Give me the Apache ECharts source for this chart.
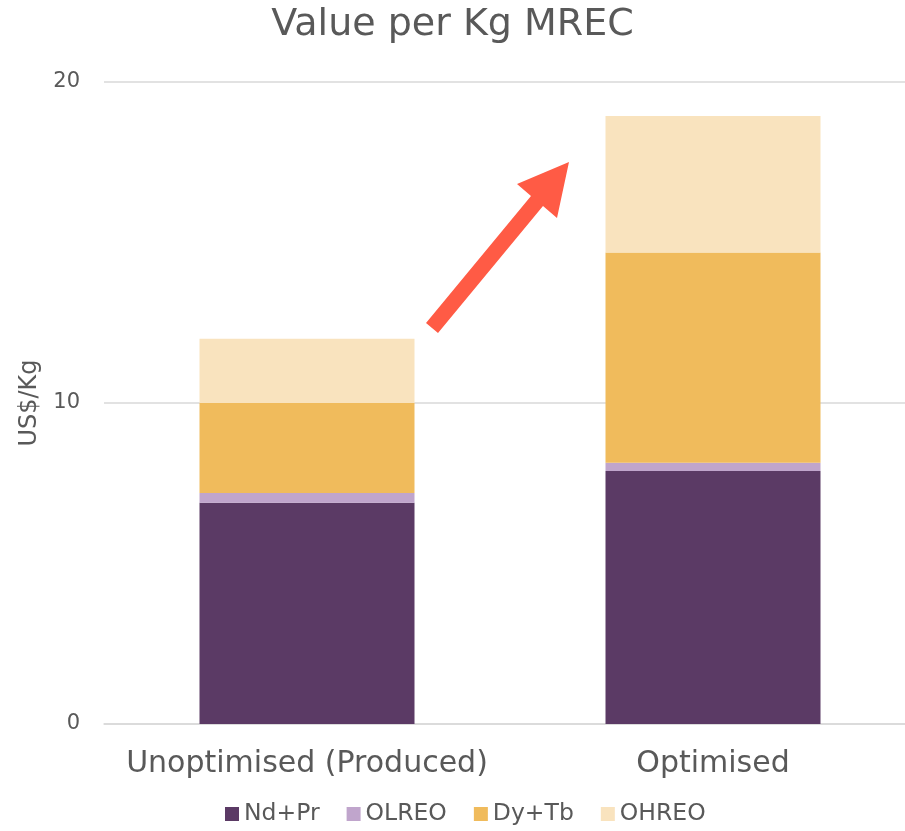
<!DOCTYPE html>
<html>
<head>
<meta charset="utf-8">
<script src="https://cdn.jsdelivr.net/npm/echarts@6/dist/echarts.min.js"></script>
<style>
  html, body { margin: 0; padding: 0; background: #fff; }
  #chart { width: 905px; height: 831px; }
</style>
</head>
<body>
<div id="chart"></div>
<script>
// data
var categories = ["Unoptimised (Produced)", "Optimised"];
var ndPr = [6.89, 7.88];
var olreo = [0.31, 0.26];
var dyTb = [2.80, 6.55];
var ohreo = [2.00, 4.25];
var yTicks = [0, 10, 20];

var chart = echarts.init(document.getElementById("chart"));
var font = "DejaVu Sans";
var grey = "#595959";

function barSeries(name, data, color) {
  return {
    name: name,
    type: "bar",
    stack: "total",
    barWidth: 215,
    data: data,
    itemStyle: { color: color },
  };
}

var option = {
  animation: false,
  title: {
    text: "Value per Kg MREC",
    left: "center",
    top: 1,
    textStyle: { fontFamily: font, fontSize: 38, fontWeight: "normal", color: grey },
  },
  grid: { left: 104, width: 812, top: 82, bottom: 107, outerBoundsMode: "none", containLabel: false },
  legend: {
    bottom: 0,
    left: 220,
    itemWidth: 14,
    itemHeight: 14,
    itemGap: 27,
    icon: "rect",
    textStyle: { fontFamily: font, fontSize: 23.5, color: grey },
  },
  xAxis: {
    type: "category",
    data: categories,
    axisLine: { lineStyle: { color: "#d9d9d9", width: 1.5 } },
    axisTick: { show: false },
    axisLabel: { interval: 0, fontFamily: font, fontSize: 30, color: grey, margin: 25 },
  },
  yAxis: {
    type: "value",
    min: yTicks[0],
    max: yTicks[yTicks.length - 1],
    interval: 10,
    name: "US$/Kg",
    nameLocation: "middle",
    nameGap: 62,
    nameTextStyle: { fontFamily: font, fontSize: 24, color: grey },
    axisLine: { show: false },
    axisTick: { show: false },
    axisLabel: { fontFamily: font, fontSize: 21, color: grey, margin: 24 },
    splitLine: { lineStyle: { color: "#d9d9d9", width: 1.5 } },
  },
  series: [
    barSeries("Nd+Pr", ndPr, "#5B3A65"),
    barSeries("OLREO", olreo, "#C0A5CC"),
    barSeries("Dy+Tb", dyTb, "#F0BB5C"),
    barSeries("OHREO", ohreo, "#F9E3BE"),
  ],
  graphic: [
    {
      type: "polygon",
      z: 100,
      shape: {
        points: [
          [426, 323], [531, 196], [517, 184], [569, 162],
          [557, 218], [543, 206], [438, 333],
        ],
      },
      style: { fill: "#FF5B45" },
    },
  ],
};

chart.setOption(option);
</script>
</body>
</html>
